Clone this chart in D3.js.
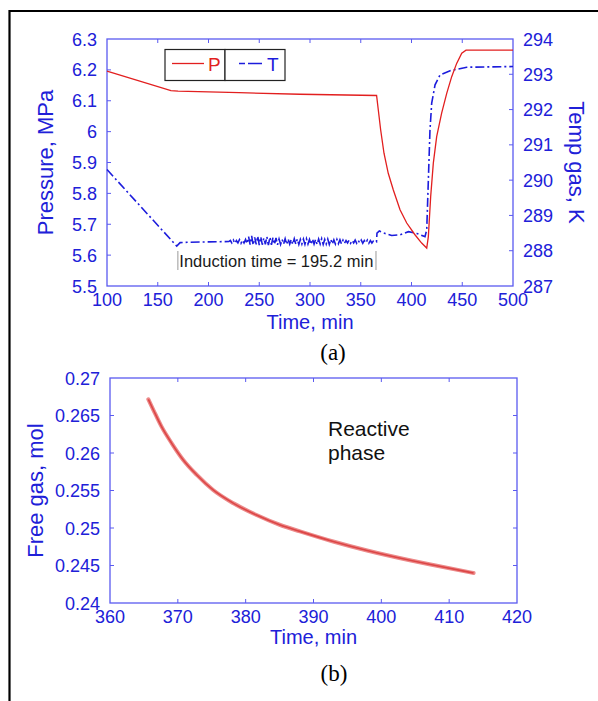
<!DOCTYPE html>
<html><head><meta charset="utf-8">
<script src="https://cdn.jsdelivr.net/npm/d3@7"></script>
<style>
html,body{margin:0;padding:0;background:#fff;}
svg{display:block;font-family:"Liberation Sans",Arial,sans-serif;}
</style></head>
<body>
<script>
// ---------- Data (a) ----------
const timeP = [100,163,170,230,290,365.6,367.3,369.6,372.9,377.1,382.1,388.7,395.3,403.4,410,415,416.6,418.9,421.5,424.8,429.7,434.7,439.6,444.5,449.5,453.7,500];
const pressure = [6.196,6.133,6.131,6.126,6.121,6.117,6.070,6.006,5.930,5.865,5.811,5.747,5.704,5.666,5.639,5.623,5.660,5.790,5.898,5.984,6.060,6.124,6.178,6.221,6.254,6.264,6.264];

const timeT = [100,168.7,172,180,200,220,
 221.5,223,224.5,226,227.5,229,230.5,232,233.5,235,236.5,238,239.5,241,242.5,244,245.5,247,248.5,250,251.5,253,254.5,256,257.5,259,260.5,262,263.5,265,266.5,268,269.5,271,272.5,274,275.5,277,278.5,280,281.5,283,284.5,286,287.5,289,290.5,292,293.5,295,296.5,298,299.5,301,302.5,304,305.5,307,308.5,310,311.5,313,314.5,316,317.5,319,320.5,322,323.5,325,326.5,328,329.5,331,332.5,334,335.5,337,338.5,340,341.5,343,344.5,346,347.5,349,350.5,352,353.5,355,356.5,358,359.5,361,362.5,
 365.5,366,368.3,373.9,380.5,388.7,397,405.2,413.3,415,416.6,418.2,419.9,423.2,428.1,438,454.4,500];
const tempGas = [290.3,288.13,288.23,288.24,288.25,288.26,
 288.29,288.22,288.30,288.21,288.29,288.22,288.31,288.21,288.30,288.22,288.32,288.20,
 288.40,288.17,288.42,288.16,288.38,288.18,288.41,288.16,288.39,288.17,288.36,288.18,288.40,288.16,288.38,288.17,288.37,288.18,288.36,288.17,
 288.33,288.18,288.32,288.19,288.34,288.18,288.33,288.19,288.32,288.18,288.34,288.19,288.33,288.18,288.32,288.19,288.33,288.18,288.34,288.19,288.32,288.18,288.33,288.19,288.32,288.18,288.33,288.19,288.34,288.18,288.32,288.19,288.33,288.18,288.32,288.19,288.31,288.19,288.32,288.20,288.31,288.19,
 288.30,288.21,288.29,288.22,288.30,288.21,288.29,288.22,288.30,288.21,288.29,288.22,288.30,288.21,288.29,288.22,288.30,288.21,288.29,288.22,288.28,
 288.25,288.50,288.56,288.49,288.43,288.45,288.54,288.49,288.40,288.59,290.0,291.42,292.18,292.70,292.98,293.10,293.20,293.22];

const xTicksA = [100,150,200,250,300,350,400,450,500];
const pTicks = [5.5,5.6,5.7,5.8,5.9,6,6.1,6.2,6.3];
const tTicks = [287,288,289,290,291,292,293,294];
const induction = [169.8, 365];
const inductionLabel = "Induction time = 195.2 min";

// ---------- Data (b) ----------
const timeF = [365.65,366.4,367.6,369.1,370.8,372.8,375.2,378.2,381.6,385.1,388,392.9,397.9,404.2,408,413.6];
const freeGas = [0.26716,0.26573,0.26351,0.26129,0.25907,0.25707,0.25507,0.25329,0.25173,0.25040,0.24955,0.2482,0.2470,0.2457,0.2450,0.2440];
const xTicksB = [360,370,380,390,400,410,420];
const gTicks = [0.24,0.245,0.25,0.255,0.26,0.265,0.27];

// ---------- Styles ----------
const W = 598, H = 701;
const textBlue = "#2020d8", axisBlue = "#5a5af0", red = "#e21f1f", tBlue = "#1c1cdc";
const fmt = d => String(+d.toFixed(3));

const svg = d3.select("body").append("svg").attr("width", W).attr("height", H);
svg.append("rect").attr("width", W).attr("height", H).attr("fill", "#fff");
// black frame (left and top visible)
svg.append("path").attr("d", `M9.5,${H} L9.5,11 L${W},11`).attr("fill","none").attr("stroke","#000").attr("stroke-width",2.2);

function frame(g, x, y, yR, xt, yt, yRt, fs) {
  const [x0, x1] = x.range(), [y0, y1] = y.range(); // y0 bottom, y1 top
  g.append("rect").attr("x", x0).attr("y", y1).attr("width", x1 - x0).attr("height", y0 - y1)
    .attr("fill", "none").attr("stroke", axisBlue).attr("stroke-width", 1.3);
  const tl = 4;
  // bottom axis labels + inward ticks top/bottom
  xt.forEach((v, i) => {
    const px = x(v);
    if (i > 0 && i < xt.length - 1) {
      g.append("line").attr("x1", px).attr("x2", px).attr("y1", y0).attr("y2", y0 - tl).attr("stroke", axisBlue);
      g.append("line").attr("x1", px).attr("x2", px).attr("y1", y1).attr("y2", y1 + tl).attr("stroke", axisBlue);
    }
    g.append("text").attr("x", px).attr("y", y0 + 20).attr("text-anchor", "middle")
      .attr("font-size", fs).attr("fill", textBlue).text(fmt(v));
  });
  yt.forEach((v, i) => {
    const py = y(v);
    if (i > 0 && i < yt.length - 1) {
      g.append("line").attr("x1", x0).attr("x2", x0 + tl).attr("y1", py).attr("y2", py).attr("stroke", axisBlue);
      if (!yR) g.append("line").attr("x1", x1).attr("x2", x1 - tl).attr("y1", py).attr("y2", py).attr("stroke", axisBlue);
    }
    g.append("text").attr("x", x0 - 10).attr("y", py + 6.5).attr("text-anchor", "end")
      .attr("font-size", fs).attr("fill", textBlue).text(fmt(v));
  });
  if (yR) {
    yRt.forEach((v, i) => {
      const py = yR(v);
      if (i > 0 && i < yRt.length - 1)
        g.append("line").attr("x1", x1).attr("x2", x1 - tl).attr("y1", py).attr("y2", py).attr("stroke", axisBlue);
      g.append("text").attr("x", x1 + 10).attr("y", py + 6.5).attr("text-anchor", "start")
        .attr("font-size", fs).attr("fill", textBlue).text(fmt(v));
    });
  }
}

// ================= Chart (a) =================
const xA = d3.scaleLinear().domain([100, 500]).range([107, 513]);
const yP = d3.scaleLinear().domain([5.5, 6.3]).range([286, 39]);
const yT = d3.scaleLinear().domain([287, 294]).range([286, 39]);
const gA = svg.append("g");
frame(gA, xA, yP, yT, xTicksA, pTicks, tTicks, 18);

gA.append("path").datum(d3.zip(timeT, tempGas))
  .attr("d", d3.line().x(d => xA(d[0])).y(d => yT(d[1])))
  .attr("fill", "none").attr("stroke", tBlue).attr("stroke-width", 1.6)
  .attr("stroke-dasharray", "9,3,2,3");
gA.append("path").datum(d3.zip(timeP, pressure))
  .attr("d", d3.line().x(d => xA(d[0])).y(d => yP(d[1])))
  .attr("fill", "none").attr("stroke", red).attr("stroke-width", 1.3);

// induction annotation
induction.forEach(t => {
  gA.append("line").attr("x1", xA(t)).attr("x2", xA(t)).attr("y1", 251).attr("y2", 270)
    .attr("stroke", "#aaa").attr("stroke-width", 1.2);
});
gA.append("text").attr("x", xA(induction[0]) + 1.5).attr("y", 266.5).attr("font-size", 16.5)
  .attr("fill", "#1a1a1a").text(inductionLabel);

// legend
const lg = gA.append("g");
lg.append("rect").attr("x", 165).attr("y", 49.5).attr("width", 60).attr("height", 31)
  .attr("fill", "#fff").attr("stroke", "#222").attr("stroke-width", 1.2);
lg.append("rect").attr("x", 225).attr("y", 49.5).attr("width", 60).attr("height", 31)
  .attr("fill", "#fff").attr("stroke", "#222").attr("stroke-width", 1.2);
lg.append("line").attr("x1", 172).attr("x2", 204).attr("y1", 63.5).attr("y2", 63.5).attr("stroke", red).attr("stroke-width", 1.3);
lg.append("text").attr("x", 208).attr("y", 71).attr("font-size", 19).attr("fill", red).text("P");
lg.append("line").attr("x1", 239).attr("x2", 262).attr("y1", 63.5).attr("y2", 63.5).attr("stroke", tBlue)
  .attr("stroke-width", 1.5).attr("stroke-dasharray", "6,3,14,0");
lg.append("text").attr("x", 267).attr("y", 71).attr("font-size", 19).attr("fill", tBlue).text("T");

// axis titles
gA.append("text").attr("transform", "translate(53,162.5) rotate(-90)").attr("text-anchor", "middle")
  .attr("font-size", 22).attr("fill", textBlue).text("Pressure, MPa");
gA.append("text").attr("transform", "translate(569,162.5) rotate(90)").attr("text-anchor", "middle")
  .attr("font-size", 22).attr("fill", textBlue).text("Temp gas, K");
gA.append("text").attr("x", 310).attr("y", 328.5).attr("text-anchor", "middle")
  .attr("font-size", 20).attr("fill", textBlue).text("Time, min");
gA.append("text").attr("x", 333).attr("y", 360).attr("text-anchor", "middle")
  .attr("font-family", "'Liberation Serif','Times New Roman',serif").attr("font-size", 23).attr("fill", "#000").text("(a)");

// ================= Chart (b) =================
const xB = d3.scaleLinear().domain([360, 420]).range([110, 517]);
const yB = d3.scaleLinear().domain([0.24, 0.27]).range([603, 378]);
const gB = svg.append("g");
frame(gB, xB, yB, null, xTicksB, gTicks, null, 18);

const lineB = d3.line().x(d => xB(d[0])).y(d => yB(d[1])).curve(d3.curveMonotoneX);
gB.append("path").datum(d3.zip(timeF, freeGas)).attr("d", lineB)
  .attr("fill", "none").attr("stroke", "#ec8a8a").attr("stroke-width", 4).attr("stroke-linecap", "round");
gB.append("path").datum(d3.zip(timeF, freeGas)).attr("d", lineB)
  .attr("fill", "none").attr("stroke", "#d83434").attr("stroke-width", 1.6).attr("stroke-opacity", 0.8);

gB.append("text").attr("x", 328).attr("y", 436).attr("font-size", 21).attr("fill", "#111").text("Reactive");
gB.append("text").attr("x", 328).attr("y", 460).attr("font-size", 21).attr("fill", "#111").text("phase");

gB.append("text").attr("transform", "translate(43,490.5) rotate(-90)").attr("text-anchor", "middle")
  .attr("font-size", 22).attr("fill", textBlue).text("Free gas, mol");
gB.append("text").attr("x", 313.5).attr("y", 643.5).attr("text-anchor", "middle")
  .attr("font-size", 20).attr("fill", textBlue).text("Time, min");
gB.append("text").attr("x", 334).attr("y", 681).attr("text-anchor", "middle")
  .attr("font-family", "'Liberation Serif','Times New Roman',serif").attr("font-size", 23).attr("fill", "#000").text("(b)");
</script>
</body></html>
